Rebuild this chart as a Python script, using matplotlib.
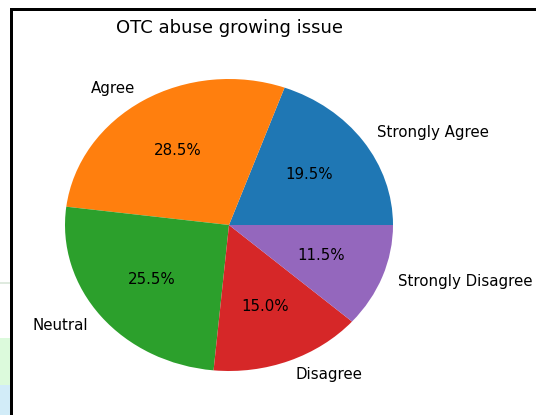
import matplotlib
matplotlib.use("Agg")
import matplotlib.pyplot as plt
from matplotlib.patches import Rectangle

labels = ["Strongly Agree", "Agree", "Neutral", "Disagree", "Strongly Disagree"]
values = [19.5, 28.5, 25.5, 15.0, 11.5]
title = "OTC abuse growing issue"

W, H = 536, 415
fig = plt.figure(figsize=(W / 100, H / 100), dpi=100)

# screenshot artifacts on the left strip
def px_rect(x0, y0, x1, y1, color):
    fig.patches.append(Rectangle((x0 / W, 1 - y1 / H), (x1 - x0) / W, (y1 - y0) / H,
                                 transform=fig.transFigure, color=color, lw=0, zorder=0))

px_rect(0, 282, 10, 284, "#dfeadf")
px_rect(0, 338, 10, 385, "#dcfadc")
px_rect(0, 385, 10, 415, "#d2ecf8")

# pie axes: center (229, 225) px, radii 164 x 146 px
cx, cy, rx, ry = 229, 225, 164, 146
lim = 1.25
aw, ah = 2 * lim * rx, 2 * lim * ry
ax = fig.add_axes([(cx - aw / 2) / W, (H - cy - ah / 2) / H, aw / W, ah / H])
ax.pie(values, labels=labels, autopct="%1.1f%%",
       textprops={"fontsize": 10.8})
ax.set_aspect("auto")
ax.set_xlim(-lim, lim)
ax.set_ylim(-lim, lim)
ax.patch.set_alpha(0)

fig.text(cx / W, 1 - 28 / H, title, ha="center", va="center", fontsize=13)

# black screenshot border
px_rect(10, 8, 13, 415, "black")
px_rect(10, 8, 536, 11, "black")

fig.savefig("out.png", dpi=100)
